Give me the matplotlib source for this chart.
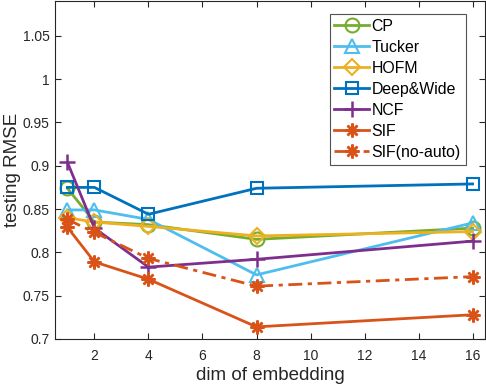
import matplotlib
matplotlib.use("Agg")
import matplotlib.pyplot as plt

plt.rcParams['font.family'] = ['Liberation Sans', 'DejaVu Sans']

dims = [1, 2, 4, 8, 16]
cp = [0.874, 0.835, 0.832, 0.815, 0.828]
tucker = [0.849, 0.849, 0.838, 0.774, 0.834]
hofm = [0.840, 0.835, 0.830, 0.819, 0.824]
deepwide = [0.875, 0.875, 0.844, 0.874, 0.879]
ncf = [0.904, 0.828, 0.783, 0.792, 0.813]
sif = [0.829, 0.789, 0.769, 0.714, 0.728]
sif_noauto = [0.838, 0.823, 0.793, 0.761, 0.772]

labels = ['CP', 'Tucker', 'HOFM', 'Deep&Wide', 'NCF', 'SIF', 'SIF(no-auto)']
series = [cp, tucker, hofm, deepwide, ncf, sif, sif_noauto]
colors = ['#77AC30', '#4DBEEE', '#EDB120', '#0072BD', '#7E2F8E', '#D95319', '#D95319']
asterisk = (8, 2, 0)
markers = ['o', '^', 'D', 's', '+', asterisk, asterisk]
msizes = [10, 10.5, 8.5, 8.5, 11, 10, 10]
styles = ['-', '-', '-', '-', '-', '-', (0, (5, 2, 1.5, 2))]

fig = plt.figure(figsize=(4.86, 3.88), dpi=100)
ax = fig.add_axes([0.1126, 0.1263, 0.8854, 0.8707])

for y, lab, c, m, ms, ls in zip(series, labels, colors, markers, msizes, styles):
    mew = 1.8 if m in ('+', asterisk) else 1.5
    ax.plot(dims, y, linestyle=ls, color=c, marker=m, markersize=ms,
            markerfacecolor='none', markeredgecolor=c, markeredgewidth=mew,
            linewidth=2, label=lab)

ax.set_xlim(0.53, 16.46)
ax.set_ylim(0.7, 1.09)
ax.set_xticks([2, 4, 6, 8, 10, 12, 14, 16])
ax.set_yticks([0.7, 0.75, 0.8, 0.85, 0.9, 0.95, 1.0, 1.05])
ax.set_yticklabels(['0.7', '0.75', '0.8', '0.85', '0.9', '0.95', '1', '1.05'])
ax.tick_params(direction='in', top=True, right=True, labelsize=10,
               colors='#262626', length=4, width=0.8)
ax.tick_params(axis='x', pad=7)
for sp in ax.spines.values():
    sp.set_color('#262626')
    sp.set_linewidth(0.8)

ax.set_xlabel('dim of embedding', fontsize=13.5, color='#262626')
ax.set_ylabel('testing RMSE', fontsize=13.5, color='#262626')
ax.xaxis.set_label_coords(0.5, -0.083)
ax.yaxis.set_label_coords(-0.078, 0.5)

leg = ax.legend(loc='upper right', bbox_to_anchor=(0.955, 0.962), fontsize=11.4,
                frameon=True, fancybox=False, edgecolor='#262626',
                handlelength=2.2, handletextpad=0.15, labelspacing=0.38,
                borderpad=0.3, borderaxespad=0)
leg.get_frame().set_linewidth(0.8)

fig.savefig('out.png', dpi=100)
